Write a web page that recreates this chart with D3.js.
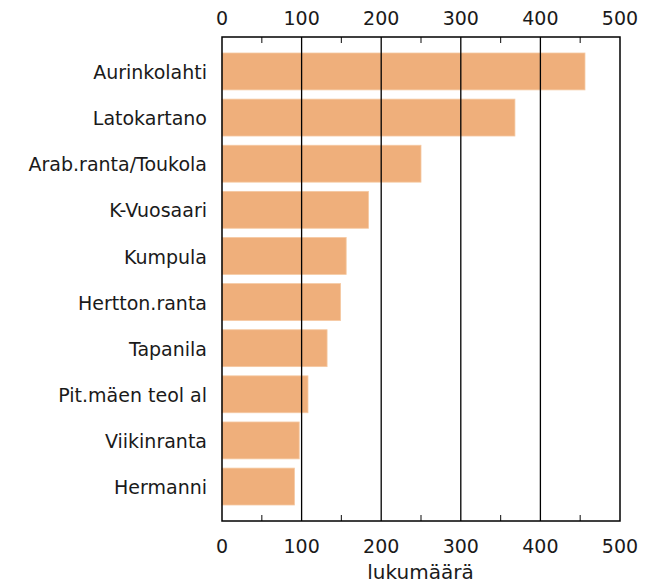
<!DOCTYPE html>
<html lang="fi">
<head>
<meta charset="UTF-8">
<script src="https://d3js.org/d3.v7.min.js"></script>
<style>
    body { margin: 0; background: #fff; font-family: "DejaVu Sans", Verdana, sans-serif; }
    svg { display: block; }
</style>
</head>
<body>
<script>
    // data
    const areas = ["Aurinkolahti", "Latokartano", "Arab.ranta/Toukola", "K-Vuosaari", "Kumpula",
        "Hertton.ranta", "Tapanila", "Pit.mäen teol al", "Viikinranta", "Hermanni"];
    const counts = [456, 368, 250, 184, 156, 149, 132, 108, 97, 91];
    const majorTicks = [0, 100, 200, 300, 400, 500];
    const minorTicks = [50, 150, 250, 350, 450];
    const axisTitle = "lukumäärä";

    const width = 651, height = 584;
    const box = { left: 222, right: 620, top: 37, bottom: 521 };

    const svg = d3.select("body").append("svg")
        .attr("width", width)
        .attr("height", height);

    const x = d3.scaleLinear().domain([0, 500]).range([box.left, box.right]);
    const y = d3.scaleBand().domain(areas).range([53, 505])
        .paddingInner(0.2).paddingOuter(0);

    // bars
    svg.selectAll("rect.bar")
        .data(areas)
        .enter()
        .append("rect")
        .attr("class", "bar")
        .attr("x", x(0))
        .attr("y", d => y(d))
        .attr("width", (d, i) => x(counts[i]) - x(0))
        .attr("height", y.bandwidth())
        .attr("fill", "#efaf7b")
        .attr("stroke", "#f5c9a2")
        .attr("stroke-width", 0.8);

    // gridlines at major ticks
    svg.selectAll("line.grid")
        .data(majorTicks.slice(1, -1))
        .enter()
        .append("line")
        .attr("x1", d => x(d)).attr("x2", d => x(d))
        .attr("y1", box.top).attr("y2", box.bottom)
        .attr("stroke", "#000").attr("stroke-width", 1.3);

    // minor ticks, inward on top and bottom
    const minor = svg.append("g");
    minorTicks.forEach(v => {
        minor.append("line")
            .attr("x1", x(v)).attr("x2", x(v))
            .attr("y1", box.top).attr("y2", box.top + 6)
            .attr("stroke", "#333").attr("stroke-width", 1.2);
        minor.append("line")
            .attr("x1", x(v)).attr("x2", x(v))
            .attr("y1", box.bottom - 6).attr("y2", box.bottom)
            .attr("stroke", "#333").attr("stroke-width", 1.2);
    });

    // frame
    svg.append("rect")
        .attr("x", box.left).attr("y", box.top)
        .attr("width", box.right - box.left)
        .attr("height", box.bottom - box.top)
        .attr("fill", "none")
        .attr("stroke", "#000").attr("stroke-width", 1.5);

    // tick labels top and bottom
    const tickFont = 19;
    const catFont = 19;
    svg.selectAll("text.top")
        .data(majorTicks)
        .enter()
        .append("text")
        .attr("x", d => x(d))
        .attr("y", 25)
        .attr("text-anchor", "middle")
        .attr("font-size", tickFont)
        .attr("fill", "#1a1a1a")
        .text(d => d);

    svg.selectAll("text.bottom")
        .data(majorTicks)
        .enter()
        .append("text")
        .attr("x", d => x(d))
        .attr("y", 553)
        .attr("text-anchor", "middle")
        .attr("font-size", tickFont)
        .attr("fill", "#1a1a1a")
        .text(d => d);

    svg.append("text")
        .attr("x", 420.5)
        .attr("y", 579)
        .attr("text-anchor", "middle")
        .attr("font-size", 20)
        .attr("fill", "#1a1a1a")
        .text(axisTitle);

    // category labels
    svg.selectAll("text.cat")
        .data(areas)
        .enter()
        .append("text")
        .attr("x", 207)
        .attr("y", d => y(d) + y.bandwidth() / 2)
        .attr("dy", "0.4em")
        .attr("text-anchor", "end")
        .attr("font-size", catFont)
        .attr("fill", "#1a1a1a")
        .text(d => d);
</script>
</body>
</html>
